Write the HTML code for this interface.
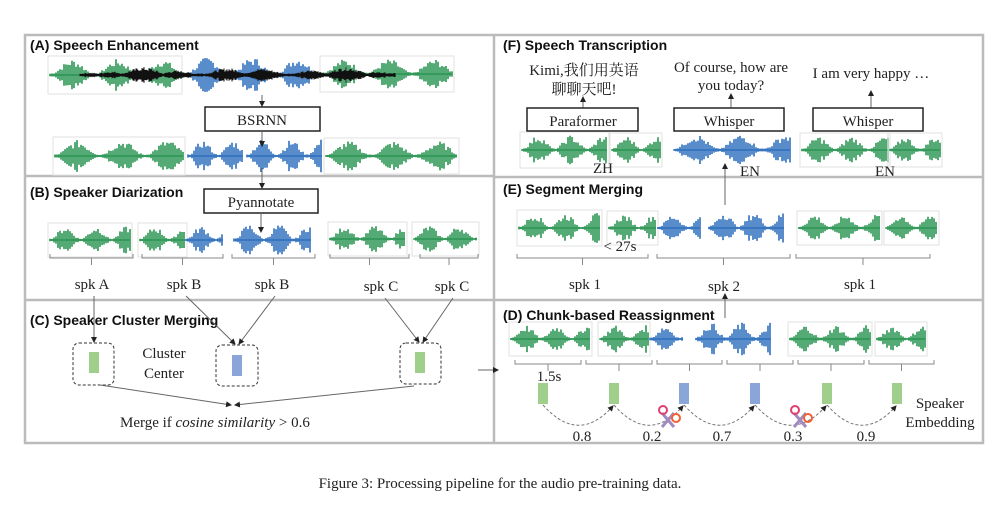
<!DOCTYPE html>
<html><head><meta charset="utf-8"><style>
html,body{margin:0;padding:0;background:#fff;width:1000px;height:513px;overflow:hidden}
svg{display:block}
text{font-family:"Liberation Serif","Noto Serif CJK SC",serif;font-size:15px;fill:#222}
.t{font-family:"Liberation Sans","DejaVu Sans",sans-serif;font-weight:bold;font-size:14px;fill:#111}
.bx{fill:#fff;stroke:#222;stroke-width:1.5}
.ln{stroke:#666;stroke-width:1;fill:none}
.br{stroke:#888;stroke-width:1;fill:none}
</style></head><body>
<svg id="s" width="1000" height="513" viewBox="0 0 1000 513" xmlns="http://www.w3.org/2000/svg">
<defs><marker id="a" markerWidth="6" markerHeight="6" refX="5" refY="3" orient="auto"><path d="M0,0L6,3L0,6z" fill="#222"/></marker></defs>
<rect x="0" y="0" width="1000" height="513" fill="#fff"/>
<g fill="none" stroke="#bbb" stroke-width="2.5">
<rect x="25" y="35" width="958" height="408"/>
<line x1="494" y1="35" x2="494" y2="443"/>
<line x1="25" y1="176" x2="494" y2="176"/>
<line x1="25" y1="300" x2="494" y2="300"/>
<line x1="494" y1="177" x2="983" y2="177"/>
<line x1="494" y1="300" x2="983" y2="300"/>
</g>
<g id="w"></g>
<text class="t" x="30" y="50">(A) Speech Enhancement</text>
<text class="t" x="30" y="197">(B) Speaker Diarization</text>
<text class="t" x="30" y="325">(C) Speaker Cluster Merging</text>
<text class="t" x="503" y="50">(F) Speech Transcription</text>
<text class="t" x="503" y="194">(E) Segment Merging</text>
<text class="t" x="503" y="320">(D) Chunk-based Reassignment</text>
<line class="ln" x1="262" y1="95" x2="262" y2="106" marker-end="url(#a)"/>
<rect class="bx" x="205" y="107" width="115" height="24"/><text x="262" y="125" text-anchor="middle" font-size="16">BSRNN</text>
<line class="ln" x1="262" y1="131" x2="262" y2="146" marker-end="url(#a)"/>
<line class="ln" x1="262" y1="168" x2="262" y2="188" marker-end="url(#a)"/>
<rect class="bx" x="204" y="189" width="114" height="24"/><text x="261" y="207" text-anchor="middle" font-size="16">Pyannotate</text>
<line class="ln" x1="261" y1="213" x2="261" y2="232" marker-end="url(#a)"/>
<g id="brk"></g>
<text x="92" y="289" text-anchor="middle">spk A</text>
<text x="184" y="289" text-anchor="middle">spk B</text>
<text x="272" y="289" text-anchor="middle">spk B</text>
<text x="381" y="291" text-anchor="middle">spk C</text>
<text x="452" y="291" text-anchor="middle">spk C</text>
<line class="ln" x1="94" y1="296" x2="94" y2="342" marker-end="url(#a)"/>
<line class="ln" x1="186" y1="296" x2="235" y2="344" marker-end="url(#a)"/>
<line class="ln" x1="275" y1="296" x2="239" y2="344" marker-end="url(#a)"/>
<line class="ln" x1="385" y1="298" x2="419" y2="342" marker-end="url(#a)"/>
<line class="ln" x1="453" y1="298" x2="423" y2="342" marker-end="url(#a)"/>
<g fill="none" stroke="#333" stroke-dasharray="3,2" stroke-width="1">
<rect x="73" y="343" width="41" height="42" rx="6"/><rect x="216" y="345" width="42" height="41" rx="6"/><rect x="400" y="343" width="41" height="41" rx="6"/></g>
<rect x="89" y="352" width="10" height="21" fill="#9fcf8a"/>
<rect x="232" y="355" width="10" height="21" fill="#8aa5d8"/>
<rect x="415" y="352" width="10" height="21" fill="#9fcf8a"/>
<text x="164" y="358" text-anchor="middle">Cluster</text><text x="164" y="378" text-anchor="middle">Center</text>
<line class="ln" x1="100" y1="385" x2="231" y2="405" marker-end="url(#a)"/>
<line class="ln" x1="414" y1="386" x2="235" y2="405" marker-end="url(#a)"/>
<text x="120" y="427" font-size="16">Merge if <tspan font-style="italic">cosine similarity</tspan> &gt; 0.6</text>
<line class="ln" x1="478" y1="370" x2="498" y2="370" marker-end="url(#a)"/>
<text x="584" y="75" text-anchor="middle">Kimi,我们用英语</text>
<text x="584" y="94" text-anchor="middle" font-size="14">聊聊天吧!</text>
<text x="731" y="72" text-anchor="middle">Of course, how are</text>
<text x="731" y="90" text-anchor="middle">you today?</text>
<text x="871" y="78" text-anchor="middle">I am very happy …</text>
<line class="ln" x1="583" y1="108" x2="583" y2="97" marker-end="url(#a)"/>
<line class="ln" x1="731" y1="108" x2="731" y2="94" marker-end="url(#a)"/>
<line class="ln" x1="871" y1="108" x2="871" y2="91" marker-end="url(#a)"/>
<rect class="bx" x="527" y="108" width="111" height="23"/><text x="583" y="126" text-anchor="middle" font-size="16">Paraformer</text>
<rect class="bx" x="674" y="108" width="110" height="23"/><text x="729" y="126" text-anchor="middle" font-size="16">Whisper</text>
<rect class="bx" x="813" y="108" width="110" height="23"/><text x="868" y="126" text-anchor="middle" font-size="16">Whisper</text>
<text x="603" y="173" text-anchor="middle">ZH</text>
<text x="750" y="176" text-anchor="middle">EN</text>
<text x="885" y="176" text-anchor="middle">EN</text>
<line class="ln" x1="725" y1="205" x2="725" y2="164" marker-end="url(#a)"/>
<text x="620" y="251" text-anchor="middle">&lt; 27s</text>
<text x="585" y="289" text-anchor="middle">spk 1</text>
<text x="724" y="291" text-anchor="middle">spk 2</text>
<text x="860" y="289" text-anchor="middle">spk 1</text>
<line class="ln" x1="725" y1="318" x2="725" y2="294" marker-end="url(#a)"/>
<text x="549" y="381" text-anchor="middle">1.5s</text>
<g id="emb"></g>
<text x="582" y="441" text-anchor="middle">0.8</text>
<text x="652" y="441" text-anchor="middle">0.2</text>
<text x="722" y="441" text-anchor="middle">0.7</text>
<text x="793" y="441" text-anchor="middle">0.3</text>
<text x="866" y="441" text-anchor="middle">0.9</text>
<text x="940" y="408" text-anchor="middle">Speaker</text>
<text x="940" y="427" text-anchor="middle">Embedding</text>
<text x="500" y="488" text-anchor="middle" font-size="17">Figure 3: Processing pipeline for the audio pre-training data.</text>
</svg>
<script>
var NS="http://www.w3.org/2000/svg",W=document.getElementById('w');
var seed=7;function r(){seed=(seed*9301+49297)%233280;return seed/233280;}
function el(n,a,p){var e=document.createElementNS(NS,n);for(var k in a)e.setAttribute(k,a[k]);(p||W).appendChild(e);return e;}
var G="#2a9552",B="#2f6fbd";
function wave(x1,x2,cy,col,h,box){
 if(box)el('rect',{x:x1-2,y:cy-h-3,width:x2-x1+4,height:2*h+6,fill:'none',stroke:'#e2e2e2','stroke-width':1});
 var d="",L=(x2-x1);var bl=Math.max(30,Math.min(45,L/2.6));
 for(var x=x1;x<=x2;x+=2){var ph=((x-x1)%bl)/bl;var env=Math.pow(Math.sin(Math.PI*ph),2);
  var a=h*(0.1+0.9*env)*(0.5+0.5*r());d+="M"+x.toFixed(1)+","+(cy-a).toFixed(1)+"V"+(cy+a).toFixed(1);}
 el('path',{d:d,stroke:col,'stroke-width':1.6,fill:'none'});
 el('line',{x1:x1,y1:cy,x2:x2,y2:cy,stroke:col,'stroke-width':1.5});
}
function noise(x1,x2,cy,h){var d="";for(var x=x1;x<=x2;x+=1){var a=h*(0.2+0.8*Math.abs(Math.sin(x/13)*Math.sin(x/31)))*(0.5+0.5*r());d+="M"+x+","+(cy-a)+"V"+(cy+a);}
 el('path',{d:d,stroke:'#111','stroke-width':1,fill:'none'});}
wave(50,180,75,G,16,1);wave(185,318,75,B,18,0);wave(322,452,74,G,15,1);noise(80,395,75,8);
wave(55,183,156,G,16,1);wave(188,243,156,B,16,0);wave(247,322,156,B,17,0);wave(326,457,156,G,15,1);
wave(50,130,240,G,14,1);wave(140,185,240,G,14,1);wave(186,223,240,B,14,0);wave(234,311,240,B,16,0);wave(330,405,239,G,14,1);wave(414,477,239,G,14,1);
wave(522,607,150,G,15,1);wave(612,660,150,G,14,1);wave(674,790,150,B,16,0);wave(802,888,150,G,14,1);wave(890,940,150,G,14,1);
wave(519,600,228,G,15,1);wave(609,656,228,G,14,1);wave(658,700,228,B,14,0);wave(709,784,228,B,17,0);wave(799,880,228,G,14,1);wave(886,937,228,G,14,1);
wave(511,590,339,G,14,1);wave(600,648,339,G,14,1);wave(650,683,339,B,14,0);wave(696,771,339,B,17,0);wave(790,870,339,G,14,1);wave(877,925,339,G,14,1);
var bk=document.getElementById('brk');
function brk(x1,x2,y,p){el('path',{d:"M"+x1+","+(y-4)+"V"+y+"H"+x2+"V"+(y-4)+"M"+((x1+x2)/2)+","+y+"V"+(y+7),class:'br'},p||bk);}
brk(50,133,258);brk(142,223,258);brk(232,315,258);brk(330,409,258);brk(420,478,258);
brk(517,648,258);brk(657,790,258);brk(796,930,258);
[[513,583],[584,654],[655,724],[725,795],[796,866],[867,936]].forEach(function(a){brk(a[0]+2,a[1]-2,364);});
var eg=document.getElementById('emb'),xs=[543,614,684,755,827,897],cs=["#9fcf8a","#9fcf8a","#8aa5d8","#8aa5d8","#9fcf8a","#9fcf8a"];
xs.forEach(function(x,i){el('rect',{x:x-5,y:383,width:10,height:21,fill:cs[i]},eg);
 if(i<5){var x2=xs[i+1];el('path',{d:"M"+x+",405 Q"+((x+x2)/2)+",445 "+(x2-1)+",406",fill:'none',stroke:'#777','stroke-dasharray':'3,2','stroke-width':1,'marker-end':'url(#a)'},eg);}});
function sc(x,y){el('line',{x1:x-8,y1:y+10,x2:x+4,y2:y-4,stroke:'#a08ac0','stroke-width':3},eg);el('line',{x1:x-8,y1:y-4,x2:x+4,y2:y+10,stroke:'#a08ac0','stroke-width':3},eg);
 el('circle',{cx:x-7,cy:y-7,r:4,fill:'none',stroke:'#e04070','stroke-width':2},eg);el('circle',{cx:x+6,cy:y+1,r:4,fill:'none',stroke:'#f06030','stroke-width':2},eg);}
sc(670,417);sc(802,417);
</script>
</body></html>
